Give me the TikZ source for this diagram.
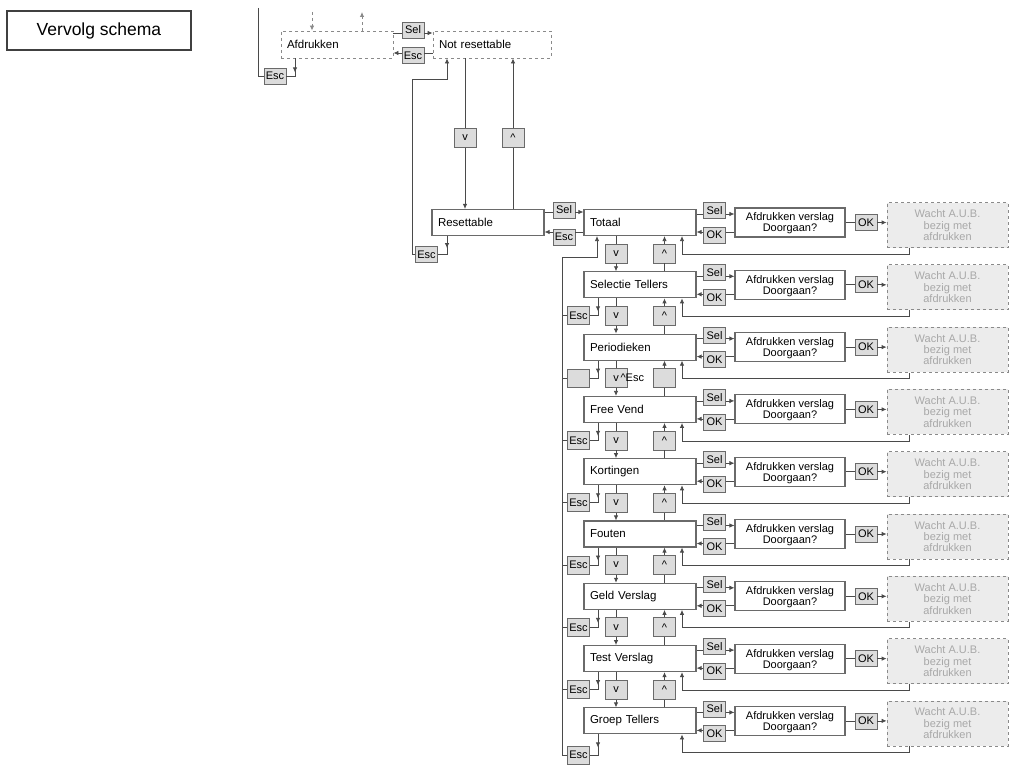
\documentclass[tikz,border=0pt]{standalone}
\usepackage{fontspec}
\setmainfont{Liberation Sans}
\usetikzlibrary{arrows.meta}
\definecolor{ln}{HTML}{4A4A4A}
\definecolor{bd}{HTML}{6A6A6A}
\definecolor{kf}{HTML}{DCDCDC}
\definecolor{wf}{HTML}{ECECEC}
\definecolor{wt}{HTML}{A8A8A8}
\definecolor{dl}{HTML}{8A8A8A}
\newcommand\fsz{\fontsize{11}{12}\selectfont}
\newcommand\fmz{\fontsize{11.5}{13}\selectfont}
\newcommand\crt{\textasciicircum}
\tikzset{
  every path/.style={draw=ln, line width=0.8pt},
  arr/.style={-{Latex[length=5pt,width=4.5pt]}},
  menubox/.style={draw=bd, fill=white, line width=1.1pt, minimum width=112, minimum height=26,
    text width=100, align=left, inner xsep=6, inner ysep=0, font=\fmz},
  dbox/.style={draw=dl, dashed, fill=white, line width=0.9pt, minimum height=27,
    align=left, inner xsep=6, inner ysep=0, font=\fmz},
  keybox/.style={draw=bd, fill=kf, line width=0.8pt, minimum width=22, minimum height=16,
    inner sep=1, font=\fsz},
  avbox/.style={draw=bd, fill=white, line width=1.1pt, minimum width=110, minimum height=29,
    align=center, inner sep=0, font=\fsz, text depth=0pt},
  wbox/.style={draw=dl, dashed, fill=wf, line width=0.8pt, minimum width=121, minimum height=45,
    align=center, inner sep=0, text=wt, font=\fontsize{11}{9.5}\selectfont},
  titlebox/.style={draw=black!75, line width=1.1pt, minimum width=184, minimum height=39,
    inner sep=0, font=\fontsize{17.5}{20}\selectfont}
}
\begin{document}
\begin{tikzpicture}[x=1pt,y=-1pt]
\path[use as bounding box, draw=none] (0,0) rectangle (1009,765);

% title
\node[titlebox] (vs) at (99,30.5) {Vervolg schema};

% top level
\node[dbox, text width=100] (afd) at (337,44.5) {Afdrukken};
\node[dbox, text width=106] (nr) at (492,44.5) {Not resettable};
\node[keybox] (tsel) at (413,30) {Sel};
\node[keybox] (tesc) at (413,55.5) {Esc};
\coordinate (tsy) at (413,33);
\coordinate (tey) at (413,53);
\draw (afd.east |- tsy) -- (tsel.west |- tsy);
\draw[arr] (tsel.east |- tsy) -- (nr.west |- tsy);
\draw (nr.west |- tey) -- (tesc.east |- tey);
\draw[arr] (tesc.west |- tey) -- (afd.east |- tey);

\coordinate (d1) at (312,12);
\coordinate (d2) at (362,12);
\draw[arr, dashed, draw=dl] (d1) -- (afd.north -| d1);
\draw[arr, dashed, draw=dl] (afd.north -| d2) -- (d2);

\node[keybox] (tesc2) at (275,76) {Esc};
\coordinate (l0) at (258,8);
\coordinate (l1) at (258,76);
\coordinate (tj) at (295,76);
\draw (l0) -- (l1) -- (tesc2.west);
\draw (tesc2.east) -- (tj) -- (afd.south -| tj);
\draw[arr] (afd.south -| tj) -- ++(0,14);

% resettable
\node[menubox] (res) at (488,222.5) {Resettable};
\node[keybox, minimum height=19] (vt) at (465,138) {v};
\node[keybox, minimum height=19] (ut) at (513,138) {\crt};
\draw (nr.south -| vt) -- (vt);
\draw[arr] (vt) -- (res.north -| vt);
\draw (res.north -| ut) -- (ut);
\draw[arr] (ut) -- (nr.south -| ut);

\node[keybox] (resc) at (426.5,254.5) {Esc};
\coordinate (rl1) at (412,254.5);
\coordinate (rl2) at (412,79);
\coordinate (rl3) at (447,79);
\draw[arr] (resc.west) -- (rl1) -- (rl2) -- (rl3) -- (nr.south -| rl3);
\coordinate (rj) at (447,254.5);
\draw (resc.east) -- (rj) -- (res.south -| rj);
\draw[arr] (res.south -| rj) -- ++(0,12);

% rows
\foreach \lab [count=\i from 0] in {Totaal, Selectie Tellers, Periodieken, Free Vend, Kortingen, Fouten, Geld Verslag, Test Verslag, Groep Tellers}{
  \pgfmathsetmacro\c{222.5+62.3*\i}
  \node[menubox] (r\i) at (640,\c) {\lab};
  \node[keybox] (s\i) at (714.5,\c-12) {Sel};
  \node[keybox] (o\i) at (714.5,\c+12.5) {OK};
  \node[avbox] (a\i) at (790,\c) {Afdrukken verslag\\[-1pt]Doorgaan?};
  \node[keybox] (k\i) at (866,\c) {OK};
  \node[wbox] (w\i) at (947.5,\c+2.5) {Wacht A.U.B.\\[2pt]bezig met\\afdrukken};
  \coordinate (sy\i) at (714.5,\c-8.5);
  \coordinate (oy\i) at (714.5,\c+9.5);
  \draw (r\i.east |- sy\i) -- (s\i.west |- sy\i);
  \draw[arr] (s\i.east |- sy\i) -- (a\i.west |- sy\i);
  \draw (a\i.west |- oy\i) -- (o\i.east |- oy\i);
  \draw[arr] (o\i.west |- oy\i) -- (r\i.east |- oy\i);
  \draw (a\i) -- (k\i);
  \draw[arr] (k\i) -- (k\i -| w\i.west);
  \coordinate (wx\i) at (909,\c+31.5);
  \coordinate (rx\i) at (682,\c+31.5);
  \draw[arr] (w\i.south -| wx\i) -- (wx\i) -- (rx\i) -- (r\i.south -| rx\i);
}

% Sel / Esc between Resettable and Totaal
\node[keybox] (msel) at (564,210) {Sel};
\node[keybox] (mesc) at (564,237) {Esc};
\coordinate (my1) at (564,212);
\coordinate (my2) at (564,232);
\draw (res.east |- my1) -- (msel.west |- my1);
\draw[arr] (msel.east |- my1) -- (r0.west |- my1);
\draw (r0.west |- my2) -- (mesc.east |- my2);
\draw[arr] (mesc.west |- my2) -- (res.east |- my2);

% v / ^ between rows
\foreach \i/\vl/\ul in {0/v/\crt, 1/v/\crt, 2/{v\,\crt Esc}/{}, 3/v/\crt, 4/v/\crt, 5/v/\crt, 6/v/\crt, 7/v/\crt}{
  \pgfmathsetmacro\c{222.5+62.3*\i}
  \pgfmathtruncatemacro\j{\i+1}
  \node[keybox, minimum height=19] (v\i) at (616,\c+31) {\makebox[5.5pt][l]{\vl}};
  \node[keybox, minimum height=19] (u\i) at (664.5,\c+31) {\ul};
  \draw (r\i.south -| v\i) -- (v\i);
  \draw[arr] (v\i) -- (r\j.north -| v\i);
  \draw (r\j.north -| u\i) -- (u\i);
  \draw[arr] (u\i) -- (r\i.south -| u\i);
}

% Esc bus
\coordinate (bt) at (562,257);
\coordinate (bb) at (562,755);
\coordinate (bj) at (597,257);
\draw[arr] (bb) -- (bt) -- (bj) -- (r0.south -| bj);
\foreach \i/\el/\dy in {1/Esc/31, 2/{}/31, 3/Esc/31, 4/Esc/31, 5/Esc/31, 6/Esc/31, 7/Esc/31, 8/Esc/34}{
  \pgfmathsetmacro\c{222.5+62.3*\i}
  \node[keybox, minimum height=18] (e\i) at (578.5,\c+\dy) {\el};
  \coordinate (ex\i) at (598,\c+\dy);
  \draw (e\i.west -| bt) -- (e\i.west);
  \draw (e\i.east) -- (ex\i) -- (r\i.south -| ex\i);
  \draw[arr] (r\i.south -| ex\i) -- ++(0,13);
}
\end{tikzpicture}
\end{document}
